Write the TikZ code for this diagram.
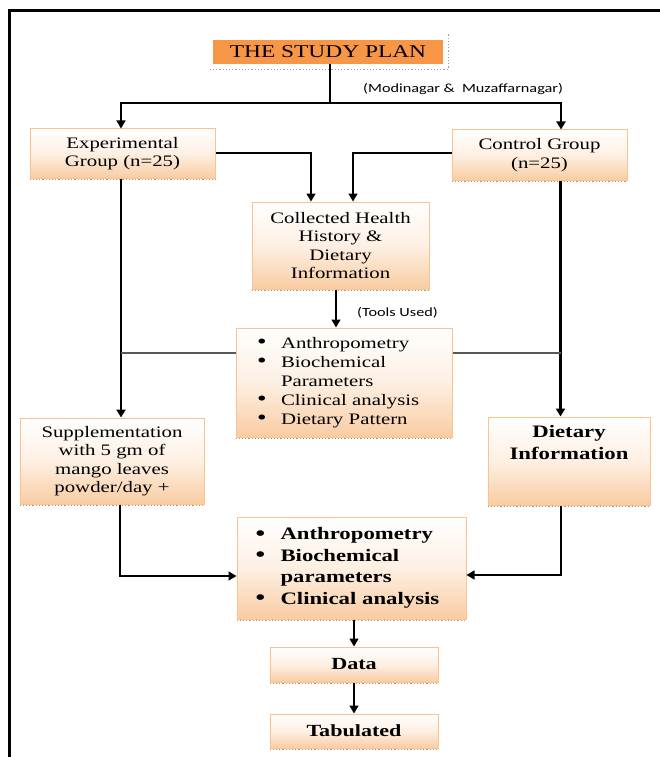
\documentclass[tikz,border=0pt]{standalone}
\usepackage{fontspec}
\setmainfont{Liberation Serif}[FakeStretch=1.3]
\newfontfamily\lblfont{Carlito}[FakeStretch=1.3]
\usetikzlibrary{arrows.meta}
\definecolor{boxline}{HTML}{F9C28F}
\definecolor{boxfill}{HTML}{F9CCA2}
\definecolor{titlefill}{HTML}{F79646}
\definecolor{shadowdot}{HTML}{B09A84}
\newcommand{\bigbul}[1]{\makebox[#1][l]{\raisebox{-0.5pt}{\fontsize{21}{21}\selectfont\textbullet}}}
\tikzset{
  box/.style={draw=boxline, line width=1pt, top color=white, bottom color=boxfill,
    middle color=boxfill!30, inner sep=0pt, align=center},
  titlebox/.style={fill=titlefill, inner sep=0pt, font=\fontsize{18}{20}\selectfont},
  regtext/.style={font=\fontsize{16}{18.5}\selectfont},
  boldtext/.style={font=\fontsize{17.5}{21.5}\selectfont\bfseries},
  lbl/.style={font=\lblfont\fontsize{12.5}{14}\selectfont, inner sep=0pt},
  arr/.style={-{Triangle[length=8pt,width=9pt]}, line width=1.4pt},
  arrthick/.style={-{Triangle[length=8pt,width=9pt]}, line width=2.6pt},
  plainline/.style={line width=1.3pt},
  grayline/.style={line width=1.4pt, draw=black!65},
  shadowline/.style={dotted, line width=1.2pt, draw=shadowdot},
}
\begin{document}
\begin{tikzpicture}[x=1pt,y=-1pt]
\useasboundingbox (0,0) rectangle (660,757);
% frame (clipped at right and bottom)
\draw[line width=2.6pt] (9.5,757) -- (9.5,10.5) -- (660,10.5);

% title
\node[titlebox, minimum width=230pt, minimum height=24pt] (title) at (328,52) {THE STUDY PLAN};
\draw[shadowline] ([shift={(-3pt,-5pt)}]title.south west) -- ([shift={(5pt,-5pt)}]title.south east) -- ([shift={(5pt,7pt)}]title.north east);

% boxes
\node[box, regtext, minimum width=185pt, minimum height=49pt] (exp) at (122.5,153.5) {Experimental\\Group (n=25)};
\node[box, regtext, minimum width=175pt, minimum height=50pt] (ctrl) at (539.5,155) {Control Group\\(n=25)};
\node[box, regtext, minimum width=177pt, minimum height=87pt] (coll) at (340.5,245.5) {Collected Health\\History \&\\Dietary\\Information};
\node[box, font=\fontsize{16}{19}\selectfont, minimum width=216pt, minimum height=109pt, text width=174pt, align=left] (tools) at (344,382.5)
  {\bigbul{24pt}Anthropometry\\
   \bigbul{24pt}Biochemical\\
   \hspace*{24pt}Parameters\\
   \bigbul{24pt}Clinical analysis\\
   \bigbul{24pt}Dietary Pattern};
\node[box, regtext, minimum width=184pt, minimum height=86pt] (supp) at (112,461) {Supplementation\\with 5 gm of\\mango leaves\\powder/day +};
\node[box, minimum width=162pt, minimum height=88pt] (diet) at (569,461) {};
\node[boldtext, align=center, inner sep=0pt] (dietlbl) at (569,442.5) {Dietary\\Information};
\node[box, boldtext, minimum width=229pt, minimum height=102pt, text width=192pt, align=left] (meas) at (351.5,568)
  {\bigbul{25pt}Anthropometry\\
   \bigbul{25pt}Biochemical\\
   \hspace*{25pt}parameters\\
   \bigbul{25pt}Clinical analysis};
\node[box, font=\fontsize{17}{20}\selectfont\bfseries, minimum width=168pt, minimum height=35pt] (data) at (354,664.5) {Data};
\node[box, font=\fontsize{17}{20}\selectfont\bfseries, minimum width=168pt, minimum height=34pt] (tab) at (354,731) {Tabulated};

\foreach \n in {exp,ctrl,coll,tools,supp,diet,meas,data,tab}
  \draw[shadowline] ([yshift=-1pt]\n.south west) -- ([yshift=-1pt]\n.south east);

% labels
\node[lbl, anchor=west] (loc) at (363,89) {(Modinagar \&\ \ Muzaffarnagar)};
\node[lbl, anchor=west] (tused) at (357,313) {(Tools Used)};

% connectors
\coordinate (split) at (330,103);
\draw[plainline] (title.south -| split) -- (split);
\draw[arr] (split) -| ([xshift=-1.5pt]exp.north);
\draw[arrthick] (split) -| ([xshift=21.5pt]ctrl.north);
\draw[arr] ([yshift=0.5pt]exp.east) -| ([xshift=-29.5pt]coll.north);
\draw[arr] ([yshift=2pt]ctrl.west) -| ([xshift=12.5pt]coll.north);
\draw[arr] ([xshift=-4.5pt]coll.south) -- ([xshift=-4.5pt]coll.south |- tools.north);

\coordinate (leftv) at ([xshift=-1.5pt]exp.south);
\coordinate (rightv) at ([xshift=21pt]ctrl.south);
\draw[arrthick, line width=2.2pt] (leftv) -- (leftv |- supp.north);
\draw[arrthick, line width=3pt] (rightv) -- (rightv |- diet.north);
\coordinate (tl) at ([yshift=29.5pt]tools.west);
\coordinate (tr) at ([yshift=29.5pt]tools.east);
\draw[grayline] (tl) -- (tl -| leftv);
\draw[grayline] (tr) -- (tr -| rightv);

\draw[arr] ([xshift=8pt]supp.south) |- ([yshift=-8pt]meas.west);
\draw[arr] ([xshift=-8pt]diet.south) |- ([yshift=-7pt]meas.east);
\draw[arr] (data.north |- meas.south) -- (data.north);
\draw[arr] (data.south) -- (tab.north);
\end{tikzpicture}
\end{document}
